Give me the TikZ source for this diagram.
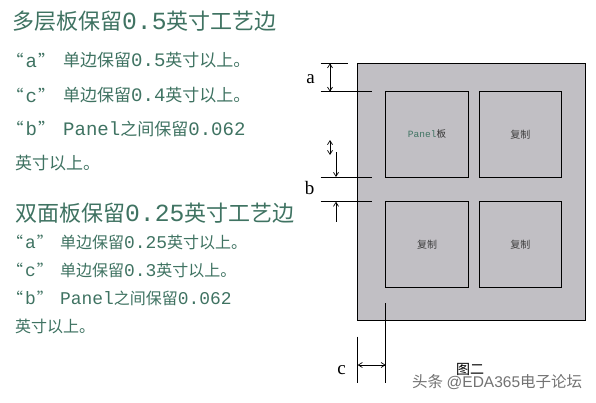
\documentclass[tikz,border=0pt]{standalone}
\usepackage{fontspec}
\usetikzlibrary{arrows.meta}
\setmainfont{Liberation Serif}
\newfontfamily\cjk{Noto Sans CJK SC}
\newfontfamily\lat[Scale=1.12]{Liberation Mono}
\definecolor{txtgreen}{HTML}{3F7362}
\definecolor{boardgray}{HTML}{C1BFC4}
\newcommand{\qtmark}[1]{“\hspace{2pt}{\lat #1}\hspace{1pt}”}
\begin{document}
\begin{tikzpicture}[x=1pt,y=-1pt,
  txt/.style={anchor=west,inner sep=0pt,text=txtgreen,font=\cjk\fontsize{17}{18}\selectfont},
  txtb/.style={anchor=west,inner sep=0pt,text=txtgreen,font=\cjk\fontsize{16}{17}\selectfont},
  ttl/.style={anchor=west,inner sep=0pt,text=txtgreen,font=\cjk\fontsize{22}{24}\selectfont},
  board/.style={draw=black,line width=0.9pt,fill=boardgray},
  panel/.style={draw=black,line width=0.9pt},
  dim/.style={draw=black,line width=0.7pt},
  dimarr/.style={draw=black,line width=0.7pt,{Straight Barb[length=4pt,width=5pt]}-{Straight Barb[length=4pt,width=5pt]}},
  onearr/.style={draw=black,line width=0.7pt,-{Straight Barb[length=4pt,width=5pt]}},
  lbl/.style={inner sep=0pt,font=\fontsize{19}{20}\selectfont}]
\useasboundingbox[fill=white] (0,0) rectangle (596,402);

% ---------- left text ----------
\node[ttl] (t1) at (12,21.7) {多层板保留{\lat 0.5}英寸工艺边};
\node[txt] (q1) at (6.5,60) {\qtmark{a}};
\node[txt] (l1) at (63,60) {单边保留{\lat 0.5}英寸以上。};
\node[txt] (q2) at (6.5,95) {\qtmark{c}};
\node[txt] (l2) at (63,95) {单边保留{\lat 0.4}英寸以上。};
\node[txt] (q3) at (6.5,128.5) {\qtmark{b}};
\node[txt] (l3) at (63,128.5) {{\lat Panel}之间保留{\lat 0.062}};
\node[txt] (l4) at (15,163) {英寸以上。};

\node[ttl] (t2) at (15,213.5) {双面板保留{\lat 0.25}英寸工艺边};
\node[txtb] (q4) at (7,242) {\qtmark{a}};
\node[txtb] (l5) at (60,242) {单边保留{\lat 0.25}英寸以上。};
\node[txtb] (q5) at (7,270) {\qtmark{c}};
\node[txtb] (l6) at (60,270) {单边保留{\lat 0.3}英寸以上。};
\node[txtb] (q6) at (7,298) {\qtmark{b}};
\node[txtb] (l7) at (60,298) {{\lat Panel}之间保留{\lat 0.062}};
\node[txtb] (l8) at (15,326) {英寸以上。};

% ---------- board ----------
\path[board] (357.7,63.3) rectangle (585.3,320);
\node[panel,minimum width=82.6pt,minimum height=85.3pt,inner sep=0pt] (p1) at (427,134.35) {};
\node[panel,minimum width=82pt,minimum height=85.3pt,inner sep=0pt] (p2) at (520.3,134.35) {};
\node[panel,minimum width=82.6pt,minimum height=85.6pt,inner sep=0pt] (p3) at (427,244.5) {};
\node[panel,minimum width=82pt,minimum height=85.6pt,inner sep=0pt] (p4) at (520.3,244.5) {};
\node[inner sep=0pt,font=\fontsize{9.5}{10}\selectfont,text=txtgreen] at (p1.center) {{\lat\fontsize{8.5}{10}\selectfont Panel}{\cjk\color{black!80}板}};
\node[inner sep=0pt,font=\cjk\fontsize{10}{11}\selectfont,text=black!75] at (p2.center) {复制};
\node[inner sep=0pt,font=\cjk\fontsize{10}{11}\selectfont,text=black!75] at (p3.center) {复制};
\node[inner sep=0pt,font=\cjk\fontsize{10}{11}\selectfont,text=black!75] at (p4.center) {复制};

% ---------- dimension a ----------
\coordinate (a1l) at (320.7,63.3);
\coordinate (a1r) at (348.3,63.3);
\coordinate (a2l) at (320.7,91.7);
\coordinate (a2r) at (371.7,91.7);
\coordinate (aat) at (330,63.3);
\coordinate (aab) at (330,91.7);
\draw[dim] (a1l) -- (a1r);
\draw[dim] (a2l) -- (a2r);
\draw[dimarr] (aat) -- (aab);
\node[lbl] (la) at (310.5,79) {a};

% ---------- dimension b ----------
\coordinate (b1l) at (320.7,177);
\coordinate (b1r) at (371.7,177);
\coordinate (b2l) at (320.7,201.7);
\coordinate (b2r) at (371.7,201.7);
\coordinate (bst) at (330,140);
\coordinate (bsb) at (330,155);
\coordinate (bdt) at (336,152);
\coordinate (but) at (336,221.5);
\draw[dim] (b1l) -- (b1r);
\draw[dim] (b2l) -- (b2r);
\draw[dimarr] (bst) -- (bsb);
\draw[onearr] (bdt) -- (b1r -| bdt);
\draw[onearr] (but) -- (b2r -| but);
\node[lbl] (lb) at (309.5,188) {b};

% ---------- dimension c ----------
\coordinate (c1t) at (357.7,336.7);
\coordinate (c1b) at (357.7,382.7);
\coordinate (c2t) at (385.7,303);
\coordinate (c2b) at (385.7,382.7);
\coordinate (cal) at (357.7,365);
\coordinate (car) at (385.7,365);
\draw[dim] (c1t) -- (c1b);
\draw[dim] (c2t) -- (c2b);
\draw[dimarr] (cal) -- (car);
\node[lbl] (lc) at (341.5,370) {c};

% ---------- caption & watermark ----------
\node[inner sep=0pt,font=\cjk\fontsize{14}{15}\selectfont] (cap) at (470,369) {图二};
\node[inner sep=0pt,anchor=west,font=\cjk\fontsize{15.5}{16}\selectfont,text=black!55] (wm) at (412,382) {头条 {\fontspec{Liberation Sans}@EDA365}电子论坛};
\end{tikzpicture}
\end{document}
